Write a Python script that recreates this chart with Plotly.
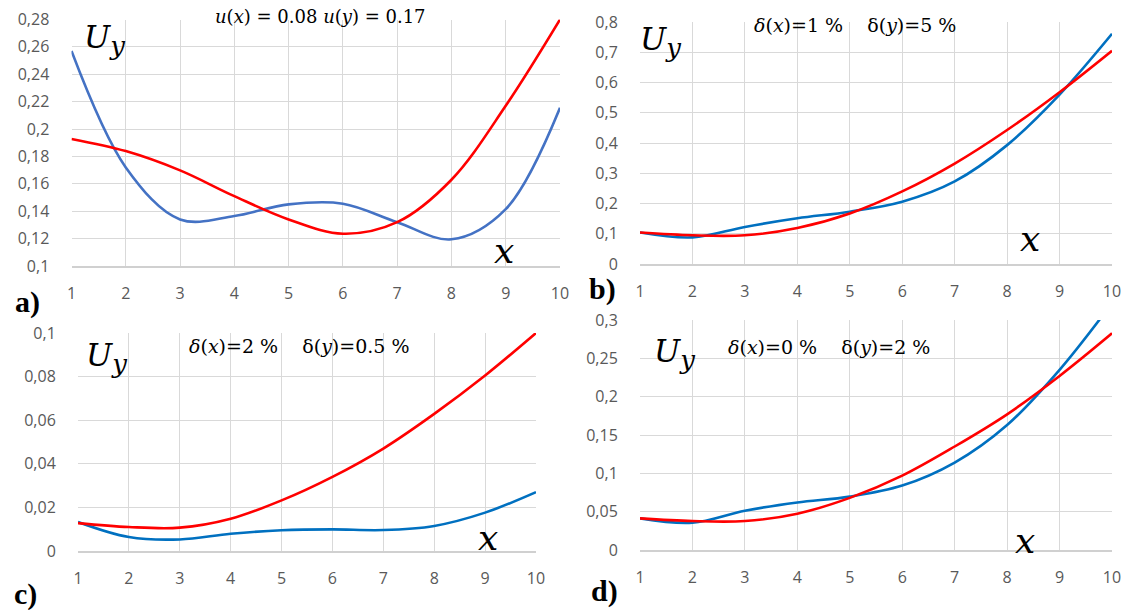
import plotly.graph_objects as go

W, H = 1127, 610

x_vals = [1, 2, 3, 4, 5, 6, 7, 8, 9, 10]

# Panel a
a_blue = [0.257, 0.172, 0.134, 0.1365, 0.145, 0.1455, 0.132, 0.1195, 0.1415, 0.2155]
a_red = [0.1928, 0.1839, 0.1698, 0.151, 0.134, 0.1236, 0.132, 0.163, 0.217, 0.28]
# Panel b
b_blue = [0.104, 0.088, 0.1225, 0.151, 0.173, 0.206, 0.273, 0.393, 0.56, 0.761]
b_red = [0.104, 0.095, 0.095, 0.119, 0.167, 0.24, 0.332, 0.443, 0.568, 0.705]
# Panel c
c_blue = [0.0133, 0.0064, 0.0053, 0.0079, 0.0095, 0.0099, 0.0096, 0.0115, 0.0176, 0.027]
c_red = [0.0128, 0.011, 0.0107, 0.0148, 0.0232, 0.034, 0.047, 0.0629, 0.0805, 0.1]
# Panel d
d_blue = [0.0413, 0.0357, 0.0513, 0.062, 0.0696, 0.084, 0.114, 0.163, 0.235, 0.322]
d_red = [0.0413, 0.0378, 0.0378, 0.0474, 0.068, 0.097, 0.135, 0.177, 0.227, 0.2826]

titles = ["<i>u</i>(<i>x</i>) = 0.08 <i>u</i>(<i>y</i>) = 0.17",
          "<i>δ</i>(<i>x</i>)=1 %    δ(<i>y</i>)=5 %",
          "<i>δ</i>(<i>x</i>)=2 %    δ(<i>y</i>)=0.5 %",
          "<i>δ</i>(<i>x</i>)=0 %    δ(<i>y</i>)=2 %"]
title_sizes = [18, 19, 19, 19]
labels = ["a)", "b)", "c)", "d)"]

# pixel boxes (left, right, top, bottom)
boxes = [(71.5, 560, 19.5, 266), (640, 1112, 22, 264), (78, 536, 333, 551), (640, 1112, 320, 550)]
yranges = [(0.1, 0.28), (0, 0.8), (0, 0.1), (0, 0.3)]
ydticks = [0.02, 0.1, 0.02, 0.05]
blue_colors = ["#4472C4", "#0070C0", "#0070C0", "#0070C0"]
series = [(a_blue, a_red), (b_blue, b_red), (c_blue, c_red), (d_blue, d_red)]

# text positions in pixels (centers)
uy_pos = [(104, 40), (660, 42), (106, 358), (674, 354)]
xl_pos = [(504, 250), (1030, 238), (488, 537), (1025, 540)]
title_pos = [(320, 16), (855, 25), (299, 346), (829, 347)]
label_pos = [(28, 302), (602, 289), (25, 594), (604, 591)]

SERIF = "DejaVu Serif"


def px(x, y):
    return x / W, 1 - y / H


fig = go.Figure()
ann = []
for i in range(4):
    l, r, t, b = boxes[i]
    xa = "xaxis" if i == 0 else f"xaxis{i+1}"
    ya = "yaxis" if i == 0 else f"yaxis{i+1}"
    xr = "x" if i == 0 else f"x{i+1}"
    yr = "y" if i == 0 else f"y{i+1}"
    blue, red = series[i]
    fig.add_trace(go.Scatter(x=x_vals, y=blue, mode="lines", xaxis=xr, yaxis=yr,
                             line=dict(color=blue_colors[i], width=2.6, shape="spline", smoothing=1.0),
                             showlegend=False, hoverinfo="skip"))
    fig.add_trace(go.Scatter(x=x_vals, y=red, mode="lines", xaxis=xr, yaxis=yr,
                             line=dict(color="#FF0000", width=2.6, shape="spline", smoothing=1.0),
                             showlegend=False, hoverinfo="skip"))
    fig.update_layout(**{
        xa: dict(domain=[l / W, r / W], anchor=yr, range=[1, 10], tickmode="linear", tick0=1, dtick=1,
                 showgrid=True, gridcolor="#D9D9D9", gridwidth=1, zeroline=False,
                 showline=True, linecolor="#D0D0D0", linewidth=1.5, automargin=False,
                 ticks="", ticklabelstandoff=12,
                 tickfont=dict(family="Open Sans", size=16, color="#595959")),
        ya: dict(domain=[1 - b / H, 1 - t / H], anchor=xr, range=list(yranges[i]), tickmode="linear",
                 tick0=0, dtick=ydticks[i], showgrid=True, gridcolor="#D9D9D9", gridwidth=1,
                 zeroline=False, showline=False, ticks="outside", ticklen=18,
                 tickcolor="rgba(0,0,0,0)", automargin=False,
                 tickfont=dict(family="Open Sans", size=16, color="#595959")),
    })
    common = dict(xref="paper", yref="paper", showarrow=False, xanchor="center", yanchor="middle")
    ux, uy = px(*uy_pos[i])
    ann.append(dict(x=ux, y=uy, **common,
                    text="<i>U</i><sub><span style='font-size:26px'><i>y</i></span></sub>",
                    font=dict(family=SERIF, size=31, color="black")))
    xx, xy = px(*xl_pos[i])
    ann.append(dict(x=xx, y=xy, **common,
                    text="<i>x</i>", font=dict(family=SERIF, size=36, color="black")))
    tx, ty = px(*title_pos[i])
    ann.append(dict(x=tx, y=ty, **common,
                    text=titles[i], font=dict(family=SERIF, size=title_sizes[i], color="black")))
    lx, ly = px(*label_pos[i])
    ann.append(dict(x=lx, y=ly, **common,
                    text="<b>" + labels[i] + "</b>",
                    font=dict(family="Liberation Serif", size=30, color="black")))

fig.update_layout(width=W, height=H, margin=dict(l=0, r=0, t=0, b=0, autoexpand=False),
                  paper_bgcolor="white", plot_bgcolor="white", separators=", ",
                  annotations=ann)
fig.write_html("out.html", config={"displayModeBar": False},
               post_script="document.body.style.margin='0px';")
